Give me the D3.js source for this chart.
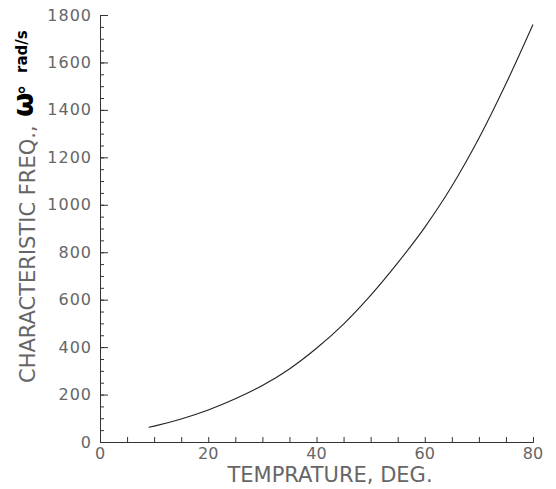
<!DOCTYPE html>
<html>
<head>
<meta charset="utf-8">
<script src="https://cdn.jsdelivr.net/npm/d3@7"></script>
<style>
  html, body { margin: 0; padding: 0; background: #fff; }
  svg { display: block; }
  text { font-family: "DejaVu Sans", sans-serif; }
</style>
</head>
<body>
<svg id="chart" width="556" height="489"></svg>
<script>
// Data
const temperature = [9, 10, 15, 20, 25, 30, 35, 40, 45, 50, 55, 60, 65, 70, 75, 80];
const omega = [62, 67, 97, 135, 182, 238, 308, 395, 497, 618, 755, 905, 1078, 1280, 1510, 1760];
const xTicks = [0, 20, 40, 60, 80];
const yTicks = [0, 200, 400, 600, 800, 1000, 1200, 1400, 1600, 1800];
const xTitle = "TEMPRATURE, DEG.";
const yTitle = "CHARACTERISTIC FREQ.,";
const yUnit = "rad/s";

const svg = d3.select("#chart");
const x = d3.scaleLinear().domain([0, 80]).range([100, 533]);
const y = d3.scaleLinear().domain([0, 1800]).range([442, 15]);

const axisColor = "#333";
const labelColor = "#666";

// Y axis: ticks pointing inward (right)
const yAxisMajor = d3.axisRight(y).tickValues(yTicks).tickSize(8).tickFormat("");
const yAxisMinor = d3.axisRight(y).tickValues(d3.range(0, 1801, 50)).tickSize(4).tickFormat("");
const gyMinor = svg.append("g").attr("transform", `translate(${x(0)},0)`).call(yAxisMinor);
const gy = svg.append("g").attr("transform", `translate(${x(0)},0)`).call(yAxisMajor);
[gy, gyMinor].forEach(g => {
  g.selectAll("path").attr("stroke", axisColor).attr("stroke-width", 1);
  g.selectAll("line").attr("stroke", axisColor).attr("stroke-width", 1);
});

// Y tick labels
svg.append("g").selectAll("text").data(yTicks).join("text")
  .attr("x", x(0) - 8)
  .attr("y", d => y(d))
  .attr("dy", "0.35em")
  .attr("text-anchor", "end")
  .attr("font-size", 16)
  .attr("letter-spacing", 1)
  .attr("fill", labelColor)
  .text(d => d);

// X axis: ticks pointing up (inward)
const xAxis = d3.axisTop(x).tickValues(d3.range(0, 81, 5)).tickSize(5).tickFormat("");
const gx = svg.append("g").attr("transform", `translate(0,${y(0)})`).call(xAxis);
gx.selectAll("path").attr("stroke", axisColor).attr("stroke-width", 1);
gx.selectAll("line").attr("stroke", axisColor).attr("stroke-width", 1);

// X tick labels
svg.append("g").selectAll("text").data(xTicks).join("text")
  .attr("x", d => x(d))
  .attr("y", y(0) + 17)
  .attr("text-anchor", "middle")
  .attr("font-size", 16)
  .attr("fill", labelColor)
  .text(d => d);

// Curve
const line = d3.line()
  .x((d, i) => x(temperature[i]))
  .y(d => y(d))
  .curve(d3.curveMonotoneX);
svg.append("path")
  .datum(omega)
  .attr("d", line)
  .attr("fill", "none")
  .attr("stroke", "#222")
  .attr("stroke-width", 1.1);

// X title
svg.append("text")
  .attr("x", 330)
  .attr("y", 482)
  .attr("text-anchor", "middle")
  .attr("font-size", 21)
  .attr("fill", labelColor)
  .text(xTitle);

// Y title pieces
svg.append("text")
  .attr("transform", "translate(35,383) rotate(-90)")
  .attr("font-size", 21)
  .attr("fill", labelColor)
  .text(yTitle);
svg.append("text")
  .attr("transform", "translate(33,117) rotate(-90)")
  .attr("font-size", 28)
  .attr("font-weight", "bold")
  .attr("fill", "#000")
  .text("ω");
svg.append("text")
  .attr("transform", "translate(33,95) rotate(-90)")
  .attr("font-size", 20)
  .attr("font-weight", "bold")
  .attr("fill", "#000")
  .text("°");
svg.append("text")
  .attr("transform", "translate(27,73) rotate(-90)")
  .attr("font-size", 15)
  .attr("font-weight", "bold")
  .attr("fill", "#000")
  .text(yUnit);
</script>
</body>
</html>
